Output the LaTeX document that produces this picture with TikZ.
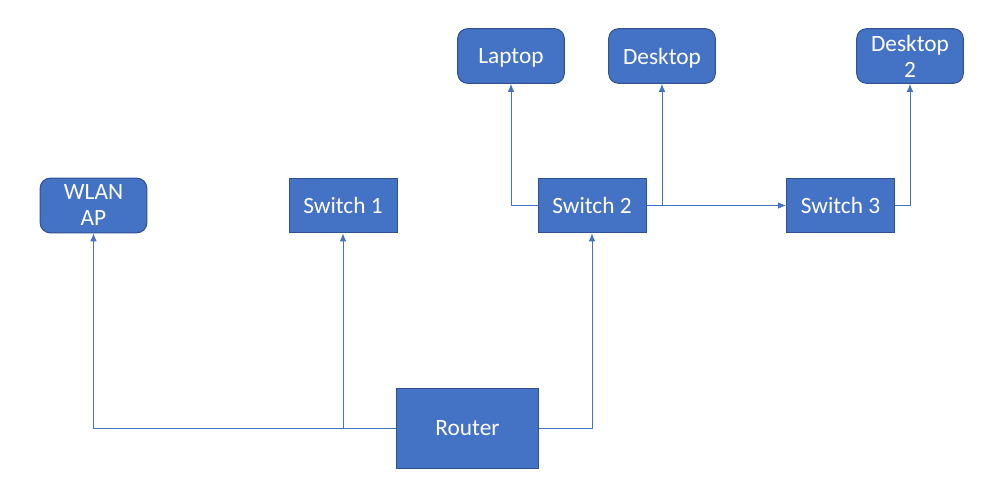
\documentclass[tikz,border=0pt]{standalone}
\usepackage{fontspec}
\setmainfont{Carlito}
\usetikzlibrary{arrows.meta}
\definecolor{boxblue}{HTML}{4472C4}
\definecolor{boxedge}{HTML}{2F528F}

\begin{document}
\begin{tikzpicture}[x=0.75pt,y=-0.75pt]
\tikzstyle{every node} = [font=\fontsize{17.5}{19.5}\selectfont, text=white, align=center, text depth=0pt]
\tikzstyle{device} = [draw=boxedge, fill=boxblue, line width=0.75pt, rounded corners=7.5pt, minimum width=80pt, minimum height=41pt, inner sep=0pt]
\tikzstyle{switchbox} = [device, sharp corners, minimum width=81pt]
\tikzstyle{link} = [draw=boxblue, line width=0.75pt, -{Latex[length=6pt,width=5pt]}]
\useasboundingbox (0,0) rectangle (1003,485);

	% bottom row
	\node[switchbox, minimum width=106pt, minimum height=60pt] (router) at (467.5,428) {Router};

	% middle row
	\node[device] (wlan) at (93.5,205.5) {WLAN\\AP}; %rounded
	\node[switchbox] (sw1) at (343,205.5) {Switch 1};
	\node[switchbox] (sw2) at (592,205.5) {Switch 2};
	\node[switchbox] (sw3) at (840.5,205.5) {Switch 3};

	% top row
	\node[device] (laptop) at (511,56) {Laptop};
	\node[device] (desk) at (662,56) {Desktop};
	\node[device] (desk2) at (910,56) {Desktop\\2};

	% links
	\draw[link] (router.west) -| (wlan.south);
	\draw[link] (router.west) -| (sw1.south);
	\draw[link] (router.east) -| (sw2.south);
	\draw[link] (sw2.west) -| (laptop.south);
	\draw[link] (sw2.east) -- (sw3.west);
	\draw[link] (sw2.east) -| (desk.south);
	\draw[link] (sw3.east) -| (desk2.south);
\end{tikzpicture}
\end{document}
